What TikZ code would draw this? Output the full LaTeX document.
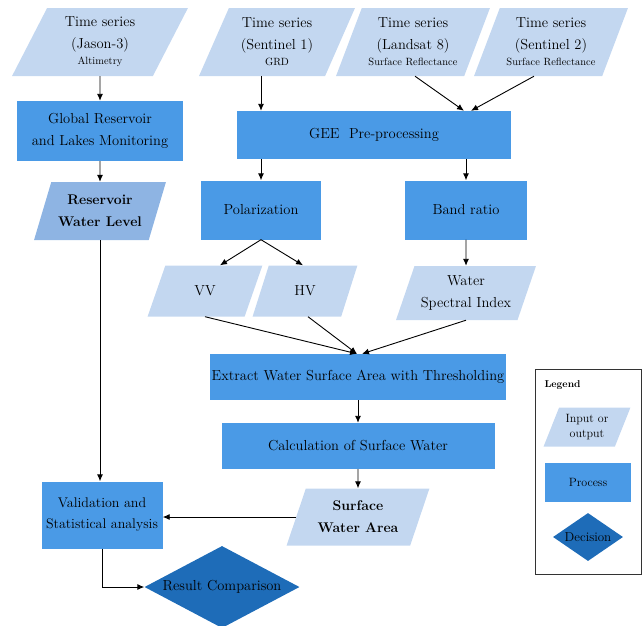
\documentclass[tikz,border=0pt]{standalone}
\usepackage{tikz}
\usetikzlibrary{shapes.geometric,calc,arrows.meta}
\definecolor{iofill}{HTML}{C3D7F0}
\definecolor{lvlfill}{HTML}{8EB4E3}
\definecolor{procfill}{HTML}{4A9AE6}
\definecolor{decfill}{HTML}{1E6CB8}
\newcommand{\subline}[1]{{\fontsize{10.5}{12}\selectfont #1}}
\tikzset{
  iobox/.style   = {trapezium, trapezium left angle=65, trapezium right angle=115,
                    trapezium stretches=true, fill=iofill, align=center, inner sep=0pt},
  lvlbox/.style  = {iobox, fill=lvlfill, font=\fontsize{14}{22}\selectfont\bfseries},
  procbox/.style = {rectangle, fill=procfill, align=center, inner sep=0pt},
  decbox/.style  = {diamond, fill=decfill, align=center, inner sep=0pt, aspect=1.9},
  flow/.style    = {draw, -{Latex[length=7pt,width=6pt]}, line width=0.9pt}
}
\begin{document}
\begin{tikzpicture}
  [
    x=1pt, y=-1pt,
    every node/.style = {font=\fontsize{14.5}{22}\selectfont, text=black}
  ]
  \useasboundingbox (0,0) rectangle (644,625);

  % inputs
  \node [iobox, minimum width=176, minimum height=68] (jas) at (100,42)
        {Time series\\(Jason-3)\\[-6pt]\subline{Altimetry}};
  \node [iobox, minimum width=156, minimum height=68] (sa) at (277,42)
        {Time series\\(Sentinel 1)\\[-6pt]\subline{GRD}};
  \node [iobox, minimum width=154, minimum height=68] (ls) at (413,42)
        {Time series\\(Landsat 8)\\[-6pt]\subline{Surface Reflectance}};
  \node [iobox, minimum width=154, minimum height=68] (sb) at (551,42)
        {Time series\\(Sentinel 2)\\[-6pt]\subline{Surface Reflectance}};

  % left branch
  \node [procbox, minimum width=166, minimum height=60] (grlm) at (100,131)
        {Global Reservoir\\and Lakes Monitoring};
  \node [lvlbox, minimum width=132, minimum height=58] (rwl) at (100,211)
        {Reservoir\\Water Level};

  % pre-processing
  \node [procbox, minimum width=274, minimum height=48] (gee) at (374,135)
        {GEE~ Pre-processing};
  \node [procbox, minimum width=120, minimum height=59] (pol) at (261,210) {Polarization};
  \node [procbox, minimum width=122, minimum height=59] (band) at (466,210) {Band ratio};
  \node [iobox, minimum width=115, minimum height=51] (vv) at (205,291) {VV};
  \node [iobox, minimum width=105, minimum height=51] (hv) at (305,291) {HV};
  \node [iobox, minimum width=140, minimum height=54] (wsi) at (466,293)
        {Water\\Spectral Index};

  % surface water
  \node [procbox, minimum width=296, minimum height=46] (ext) at (358,377)
        {Extract Water Surface Area with Thresholding};
  \node [procbox, minimum width=273, minimum height=46] (calc) at (358,446)
        {Calculation of Surface Water};
  \node [iobox, minimum width=143, minimum height=57,
         font=\fontsize{14}{22}\selectfont\bfseries] (swa) at (358,517)
        {Surface\\Water Area};

  % result
  \node [procbox, minimum width=121, minimum height=67,
         font=\fontsize{14}{21}\selectfont] (val) at (102,515)
        {Validation and\\Statistical analysis};
  \node [decbox, minimum width=155, minimum height=82] (res) at (222,587)
        {Result Comparison};

  % legend
  \draw [line width=0.9pt, draw=black!80] (535,369) rectangle (641,574);
  \node [anchor=base west, font=\fontsize{10}{12}\selectfont\bfseries] (leg) at (541,387) {Legend};
  \node [iobox, minimum width=87, minimum height=39,
         font=\fontsize{12}{15}\selectfont] (lio) at (587,427) {Input or\\output};
  \node [procbox, minimum width=86, minimum height=39,
         font=\fontsize{12}{15}\selectfont] (lproc) at (588,482) {Process};
  \node [decbox, minimum width=70, minimum height=48, aspect=1.5,
         font=\fontsize{13}{15}\selectfont] (ldec) at (588,537) {Decision};

  % connectors
  \path [flow] (jas.south) -- (grlm.north);
  \path [flow] (grlm.south) -- (rwl.north);
  \path [flow] (rwl.south) -- (rwl.south |- val.north);
  \path [flow] (pol.north |- sa.south) -- (pol.north |- gee.north);
  \path [flow] ([xshift=2pt]ls.south) -- ($(gee.north -| band.north)+(-2,0)$);
  \path [flow] ([xshift=-17pt]sb.south) -- ($(gee.north -| band.north)+(5,0)$);
  \path [flow] (pol.north |- gee.south) -- (pol.north);
  \path [flow] (band.north |- gee.south) -- (band.north);
  \path [flow] (pol.south) -- ($(vv.north)+(15,0)$);
  \path [flow] (pol.south) -- ($(hv.north)+(-2,0)$);
  \path [flow] (band.south) -- (wsi.north);
  \path [flow] (vv.south) -- ($(ext.north)+(-1,0)$);
  \path [flow] ([xshift=3pt]hv.south) -- ($(ext.north)+(-1,0)$);
  \path [flow] (wsi.south) -- ($(ext.north)+(4,0)$);
  \path [flow] (ext.south) -- (calc.north);
  \path [flow] (calc.south) -- (swa.north);
  \path [flow] (swa.west) -- (swa.west -| val.east);
  \path [flow] (val.south) |- (res.west);
\end{tikzpicture}
\end{document}
